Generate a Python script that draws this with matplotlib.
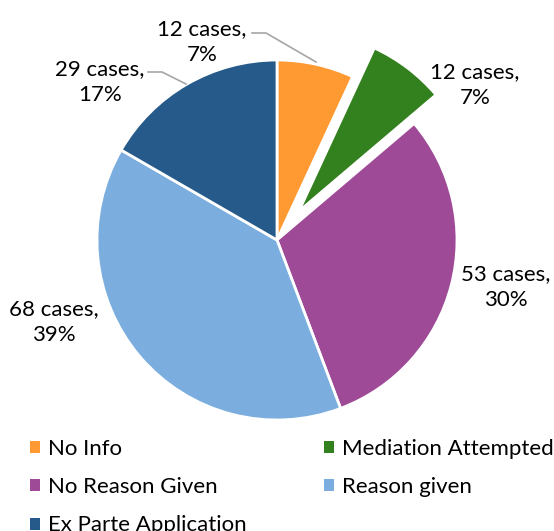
import matplotlib
matplotlib.use("Agg")
import matplotlib.pyplot as plt
from matplotlib.patches import Patch
import numpy as np

categories = ["No Info", "Mediation Attempted", "No Reason Given", "Reason given", "Ex Parte Application"]
cases = [12, 12, 53, 68, 29]
percents = ["7%", "7%", "30%", "39%", "17%"]

colors = ["#FF9A33", "#33801E", "#9E4A96", "#7BAEDE", "#255A8A"]
explode_frac = [0, 0.2, 0, 0, 0]

W, H = 554, 531
fig = plt.figure(figsize=(W / 100, H / 100), dpi=100)
ax = fig.add_axes([0, 0, 1, 1])

cx, cy, R = 277, H - 240, 180
wedges, _ = ax.pie(cases, colors=colors, explode=[e * R for e in explode_frac],
                   startangle=90, counterclock=False,
                   center=(cx, cy), radius=R, frame=True,
                   wedgeprops=dict(edgecolor="white", linewidth=2))
ax.set_xlim(0, W)
ax.set_ylim(0, H)
ax.axis("off")

FONT = "Lato"
FS = 16

# label centres (pixel coordinates, y from top) and optional leader lines
label_pos = [(202, 42), (475, 85), (506, 287), (54, 322), (100, 82)]
leaders = {0: [(252, 33), (266, 33), (316, 62)], 4: [(148, 72), (162, 72), (186, 84)]}

for i, (n, p) in enumerate(zip(cases, percents)):
    x, y = label_pos[i]
    ax.text(x, H - y, f"{n} cases,\n{p}", ha="center", va="center", fontsize=FS,
            family=FONT, color="#000000", linespacing=1.35)
    if i in leaders:
        pts = leaders[i]
        ax.plot([q[0] for q in pts], [H - q[1] for q in pts], color="#A6A6A6", lw=1.2)

handles = [Patch(facecolor=c, edgecolor="none") for c in colors]
order = [0, 2, 4, 1, 3]
leg = fig.legend([handles[k] for k in order], [categories[k] for k in order],
                 loc="upper left", bbox_to_anchor=(30 / W, 1 - 439 / H), ncol=2, frameon=False,
                 prop=dict(family=FONT, size=FS), handlelength=0.45, handleheight=0.45,
                 handletextpad=0.35, columnspacing=3.5, labelspacing=0.82, borderaxespad=0,
                 borderpad=0)

fig.savefig("out.png", dpi=100)
